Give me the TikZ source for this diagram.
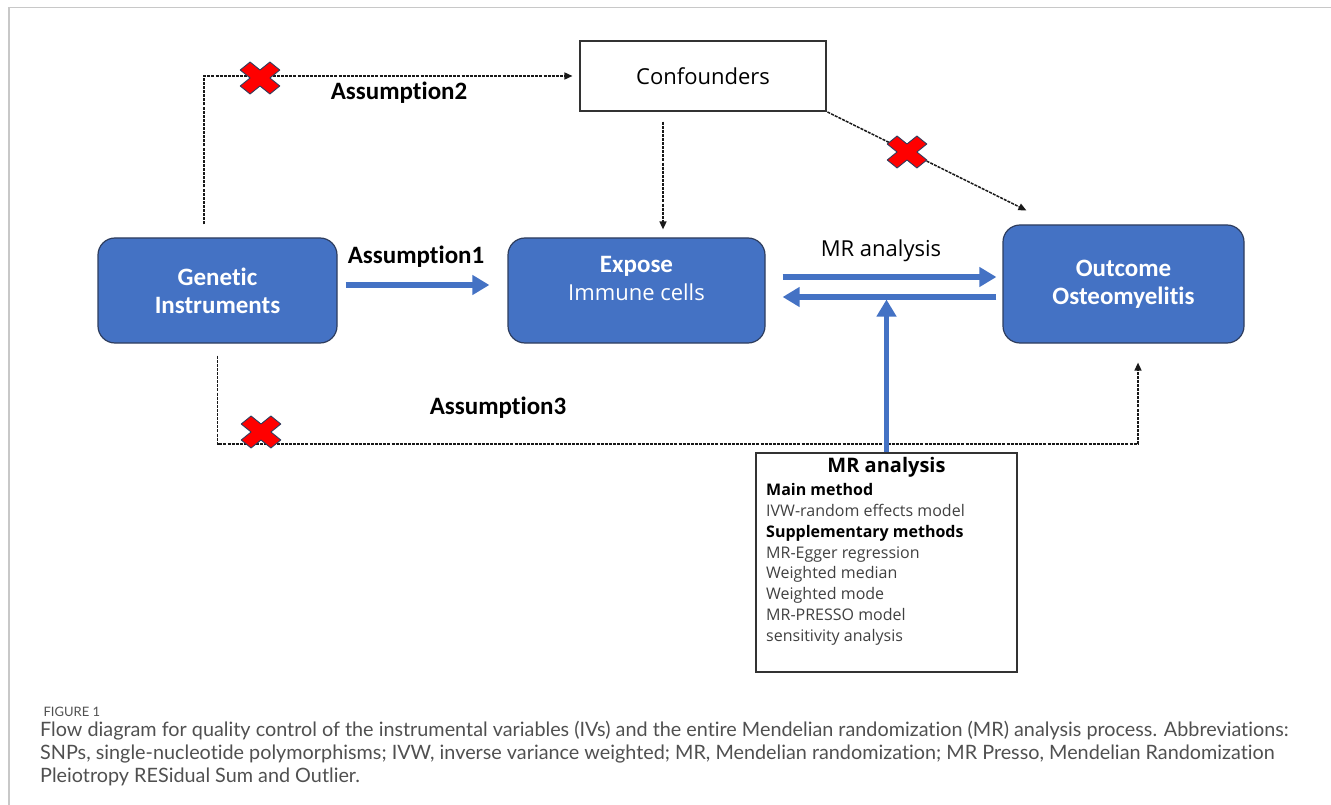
\documentclass[tikz,border=0pt]{standalone}
\usepackage{fontspec}
\setmainfont{Carlito}[Ligatures={NoCommon,NoContextual}, RawFeature={-calt}]
\newfontfamily\yahei{Open Sans}[Ligatures={NoCommon,NoContextual}]
\newfontfamily\capfont{Lato}[Ligatures={NoCommon,NoContextual}, RawFeature={-calt}]
\usepackage{xcolor}
\usetikzlibrary{arrows.meta,positioning,calc}

\definecolor{boxblue}{HTML}{4472C4}
\definecolor{boxedge}{HTML}{2E3D5E}
\definecolor{bodygray}{HTML}{404040}
\definecolor{capgray}{HTML}{505050}
\definecolor{framegray}{HTML}{C8C8C8}

\begin{document}
\begin{tikzpicture}[x=1pt, y=-1pt,
    bluebox/.style={draw=boxedge, line width=1.2pt, fill=boxblue, rounded corners=17pt, inner sep=0pt},
    boxtext/.style={text=white, align=center, font=\fontsize{25}{28}\selectfont\bfseries},
    asmtext/.style={font=\fontsize{25}{30}\selectfont\bfseries},
    dotarrow/.style={line width=1.5pt, dash pattern=on 3pt off 1.1pt, black!90, -{Triangle[length=8pt, width=7pt]}},
    bluearrow/.style={draw=boxblue, line width=5.5pt, -{Triangle[length=17pt, width=19pt]}},
    nocross/.pic={
        \filldraw[fill=red, draw=boxedge, line width=0.9pt, line join=round, xscale=1.4, yscale=1.13, rotate=45]
            (5,5) -- (15,5) -- (15,-5) -- (5,-5) -- (5,-15) -- (-5,-15) -- (-5,-5)
            -- (-15,-5) -- (-15,5) -- (-5,5) -- (-5,15) -- (5,15) -- cycle;
    }]
    \useasboundingbox (0,0) rectangle (1331,805);
    % page frame
    \draw[framegray, line width=1.5pt] (9,805) -- (9,7.5) -- (1331,7.5);

    % Boxes
    \node[bluebox, boxtext, minimum width=239pt, minimum height=105pt] (genetic) at (217.5,290.5) {Genetic\\Instruments};
    \node[bluebox, minimum width=257pt, minimum height=105pt] (expose) at (636.5,290.5) {};
    \node[boxtext] (exposetxt) at (636.5,279) {Expose\\{\yahei\mdseries\fontsize{22}{28}\selectfont Immune cells}};
    \node[bluebox, boxtext, minimum width=241pt, minimum height=118pt] (outcome) at (1123.5,284) {Outcome\\Osteomyelitis};
    \node[draw=black!80, line width=1.1pt, minimum width=246pt, minimum height=70pt, font=\yahei\fontsize{22}{26}\selectfont] (confounders) at (703,76) {Confounders};
    \node[draw=black!80, line width=1.1pt, minimum width=261pt, minimum height=219pt] (mrbox) at (886.5,562.5) {};
    \node[font=\yahei\bfseries\fontsize{20}{24}\selectfont] (mrhead) at (886.5,467) {MR analysis};
    \node[anchor=north west, inner sep=0pt, align=left, text=bodygray, font=\yahei\fontsize{16}{20.9}\selectfont] (mrbody) at (766,483)
        {{\color{black}\bfseries Main method}\\
         IVW-random effects model\\
         {\color{black}\bfseries Supplementary methods}\\
         MR-Egger regression\\
         Weighted median\\
         Weighted mode\\
         MR-PRESSO model\\
         sensitivity analysis};

    % Assumption labels
    \node[asmtext] (asm1) at (416,257) {Assumption1};
    \node[asmtext] (asm2) at (399,93) {Assumption2};
    \node[asmtext] (asm3) at (498,408) {Assumption3};
    \node[font=\yahei\fontsize{22}{26}\selectfont] (mrlabel) at (881,251) {MR analysis};

    % Dotted connectors
    \coordinate (lowrun) at (0,432);
    \draw[dotarrow, shorten >=7pt] ([xshift=-13.5pt, yshift=13pt]genetic.north) |- (confounders.west);
    \draw[dotarrow, shorten <=10pt, shorten >=8pt] ([xshift=-40pt]confounders.south) -- ([xshift=-40pt]confounders.south |- expose.north);
    \draw[dotarrow, shorten <=1pt] (confounders.south east) -- ([xshift=24pt, yshift=14pt]outcome.north west);
    \draw[dotarrow] ([yshift=-12pt]genetic.south) -- ([yshift=-12pt]genetic.south |- lowrun) -| ([xshift=14.5pt, yshift=-19pt]outcome.south);

    % Blue connectors
    \coordinate (mrtop) at (0,277);
    \coordinate (mrbot) at (0,297);
    \draw[bluearrow, shorten <=8pt, shorten >=18pt] ([yshift=5.5pt]genetic.east) -- ([yshift=5.5pt]genetic.east -| expose.west);
    \draw[bluearrow, shorten <=17pt, shorten >=6pt] (expose.east |- mrtop) -- (outcome.west |- mrtop);
    \draw[bluearrow, shorten <=6pt, shorten >=17pt] (outcome.west |- mrbot) -- (expose.east |- mrbot);
    \draw[bluearrow, shorten >=2.5pt] (mrbox.north) -- (mrbox.north |- mrbot);

    % Crosses
    \pic at (260,78) {nocross};
    \pic at (907,152) {nocross};
    \pic at (261,432) {nocross};

    % Caption
    \node[anchor=west, text=capgray, font=\capfont\fontsize{13}{15}\selectfont] (figlabel) at (40,712) {FIGURE 1};
    \node[anchor=north west, inner sep=0pt, align=left, text=capgray, font=\capfont\fontsize{19.8}{23}\selectfont] (caption) at (40,721)
        {Flow diagram for quality control of the instrumental variables (IVs) and the entire Mendelian randomization (MR) analysis process. Abbreviations:\\
         SNPs, single-nucleotide polymorphisms; IVW, inverse variance weighted; MR, Mendelian randomization; MR Presso, Mendelian Randomization\\
         Pleiotropy RESidual Sum and Outlier.};
\end{tikzpicture}
\end{document}
